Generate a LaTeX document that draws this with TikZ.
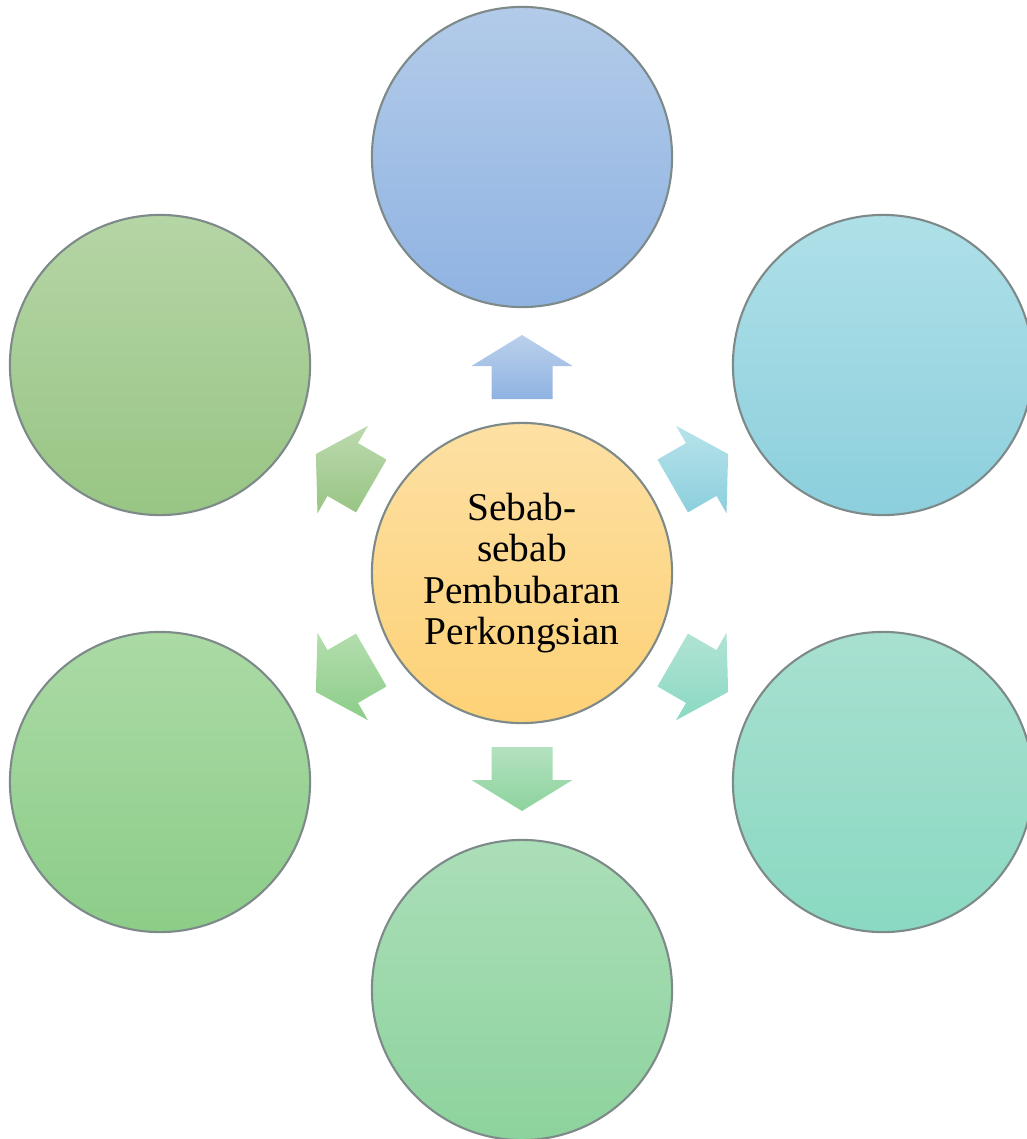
\documentclass[tikz,border=0pt]{standalone}
\usepackage{fontspec}
\setmainfont{Liberation Serif}
\usepackage{xcolor}
\usetikzlibrary{calc}

\definecolor{ctrtop}{HTML}{FDE0A3}
\definecolor{ctrbot}{HTML}{FDD176}
\definecolor{bluetop}{HTML}{B3CBE9}
\definecolor{bluebot}{HTML}{8FB3E2}
\definecolor{cyantop}{HTML}{AFE0E8}
\definecolor{cyanbot}{HTML}{8CCFDD}
\definecolor{tealtop}{HTML}{A8E0D0}
\definecolor{tealbot}{HTML}{8AD9C2}
\definecolor{mintop}{HTML}{ABDEB8}
\definecolor{minbot}{HTML}{8DD39D}
\definecolor{greentop}{HTML}{ABDAA5}
\definecolor{greenbot}{HTML}{8CCD88}
\definecolor{olivetop}{HTML}{B5D5A5}
\definecolor{olivebot}{HTML}{98C584}
\definecolor{rimgray}{HTML}{7E8A8A}

\begin{document}
\begin{tikzpicture}[
    x=0.01cm, y=0.01cm,
    circ/.style={circle, draw=rimgray, line width=0.6pt, minimum size=3cm, inner sep=0pt, align=center},
    hub/.style={circ, top color=ctrtop, bottom color=ctrbot, font=\fontsize{11.2}{11.8}\selectfont},
  ]
  \useasboundingbox (0,0) rectangle (1026,-1139);

  % Centre
  \node[hub] (ctr) at (522,-573) {Sebab-\\sebab\\Pembubaran\\Perkongsian};

  % Outer circles
  \node[circ, top color=bluetop, bottom color=bluebot] (top) at (522,-157) {};
  \node[circ, top color=cyantop, bottom color=cyanbot] (upright) at (883,-365) {};
  \node[circ, top color=tealtop, bottom color=tealbot] (lowright) at (883,-782) {};
  \node[circ, top color=mintop, bottom color=minbot] (bottom) at (522,-990) {};
  \node[circ, top color=greentop, bottom color=greenbot] (lowleft) at (160,-782) {};
  \node[circ, top color=olivetop, bottom color=olivebot] (upleft) at (160,-365) {};

  % Block arrows
  \foreach \a/\ct/\cb in {90/bluetop/bluebot, 30/cyantop/cyanbot, -30/tealtop/tealbot,
                          -90/mintop/minbot, -150/greentop/greenbot, 150/olivetop/olivebot} {
    \path[top color=\ct!90!white, bottom color=\cb]
      ($(ctr.center)+(\a:174)+(\a+90:30.5)$) --
      ($(ctr.center)+(\a:207)+(\a+90:30.5)$) --
      ($(ctr.center)+(\a:207)+(\a+90:50.5)$) --
      ($(ctr.center)+(\a:238)$) --
      ($(ctr.center)+(\a:207)+(\a-90:50.5)$) --
      ($(ctr.center)+(\a:207)+(\a-90:30.5)$) --
      ($(ctr.center)+(\a:174)+(\a-90:30.5)$) -- cycle;
  }

\end{tikzpicture}
\end{document}
